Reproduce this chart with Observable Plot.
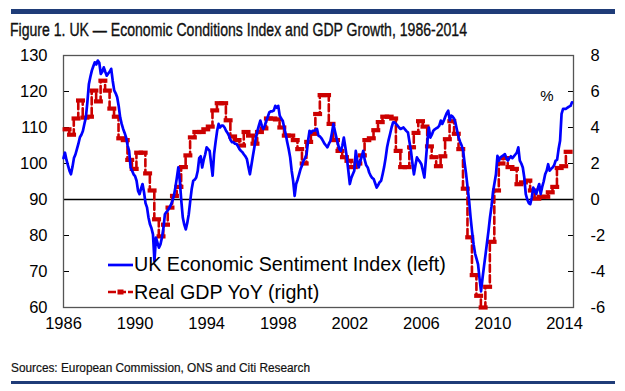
<!DOCTYPE html>
<html>
<head>
<meta charset="utf-8">
<script src="https://cdn.jsdelivr.net/npm/d3@7"></script>
<script src="https://cdn.jsdelivr.net/npm/@observablehq/plot@0.6"></script>
<style>
  html, body { margin: 0; padding: 0; background: #ffffff; }
  #wrap { position: relative; width: 625px; height: 391px; overflow: hidden; background: #fff; }
  #chart { position: absolute; left: 0; top: 45px; }
  #overlay { position: absolute; left: 0; top: 0; pointer-events: none; }
</style>
</head>
<body>
<div id="wrap">
  <div id="chart"></div>
  <svg id="overlay" width="625" height="391"></svg>
</div>
<script>
// ---------------- DATA ----------------
const titleText = "Figure 1. UK \u2014 Economic Conditions Index and GDP Growth, 1986-2014";
const sourceText = "Sources: European Commission, ONS and Citi Research";
const seriesNames = ["UK Economic Sentiment Index (left)", "Real GDP YoY (right)"];
const startYear = 1986;

// UK Economic Sentiment Index, monthly from Jan 1986 (left axis)
const esiMonthly = [
  101.5, 103, 101, 99.5, 98, 97, 99, 101.5, 102.5, 104, 105.5, 107.3,
  108, 109, 111, 112.8, 117, 122, 124, 125.8, 127, 128.1, 127.5, 128.6,
  128, 124.9, 125.5, 126.7, 125.5, 124.4, 125, 125.5, 126.3, 123, 120.3, 119.5,
  118.4, 116, 112.8, 111, 109.6, 108.5, 107.2, 105, 103.5, 98.9, 98, 97,
  96.5, 95.2, 92.4, 91.5, 93, 94.3, 92, 89, 87.8, 85, 83.1, 82,
  80.3, 72.9, 79.4, 78, 76.6, 77.5, 79.4, 82, 85.9, 86.5, 87, 87.7,
  88.5, 89.6, 91, 93.3, 96, 98.9, 95.2, 89.6, 85, 83, 81.7, 83.5,
  85.9, 89.6, 93, 95.2, 95.5, 96.1, 97.9, 101.5, 102, 98.9, 101, 102.5,
  104.5, 104, 103.5, 100, 96.6, 102.7, 106, 109, 111, 110, 110.5, 110.5,
  110, 109.1, 108.5, 107.7, 106.5, 105.9, 105.9, 105.5, 105.4, 104.8, 104, 103.5,
  103.1, 102.5, 102, 101.2, 99, 97, 99.5, 102.1, 104.5, 107.2, 109, 110.5,
  111.9, 110.5, 109.6, 110.5, 111.9, 113, 114.2, 114.5, 114.5, 114.7, 116, 115.5,
  116, 113.3, 112.5, 111.9, 110, 108.2, 106, 104, 101.7, 98, 95.2, 91,
  94.3, 95.5, 97, 98.5, 99.5, 100.8, 101.5, 102.6, 106.3, 109.1, 108.5, 109.1,
  109.1, 109.3, 109.6, 107.7, 107.5, 107, 106.3, 105.5, 105, 104.5, 105.5, 106.3,
  108.5, 111, 109, 107.2, 105.5, 104, 103.5, 105, 107.2, 104.5, 101.7, 98,
  94.3, 96, 97, 98, 103.5, 101, 98.9, 100.5, 102, 103.5, 101, 99.5,
  98.9, 97.5, 96.6, 96, 95.7, 94.5, 93.3, 94, 94.8, 95.2, 97, 99,
  101.5, 104.5, 106.5, 108.2, 110, 111.4, 111.4, 111, 110.5, 110, 109.6, 109.8,
  110, 109.5, 109, 108.6, 106, 103.5, 100, 97, 99.5, 101.7, 101, 100.5,
  99.8, 98, 96.1, 101, 106, 110, 107.2, 108, 109.1, 109.5, 109.8, 110,
  110.5, 111.9, 111, 111.9, 113, 114, 114.7, 112, 113.3, 113, 112.4, 111,
  109, 107.2, 106, 105, 103.5, 100, 97, 93.3, 89.6, 85, 81, 77.6,
  75, 73.5, 72, 68, 64.5, 68.2, 71.5, 74.7, 78, 81.3, 85, 88,
  92, 94.5, 97, 102.1, 100.8, 101.7, 102, 102.3, 102.6, 101.5, 100.8, 101.5,
  102, 101.5, 102, 102.5, 103, 104.5, 100.8, 100, 98.9, 96.1, 91.5, 90,
  89, 88.7, 90.5, 93.3, 92.5, 91.5, 93, 94.3, 91.5, 93.5, 95, 97,
  98, 99.8, 98, 98.5, 98.9, 99.5, 100.8, 101, 104, 106.3, 113.8, 115.2,
  115.2, 115.2, 115.5, 115.8, 116, 117
];

// Real GDP YoY %, quarterly from 1986 Q1 (right axis)
const gdpQuarterly = [
  3.9, 3.6, 4.5, 5.5,
  4.55, 4.6, 6.05, 5.45,
  6.6, 6.05, 5.05, 4.6,
  3.4, 3.3, 2.2, 1.7,
  2.6, 2.6, 1.45, 0.5,
  -1.1, -2.05, -1.4, -0.45,
  0.2, 0.7, 1.8, 2.45,
  3.45, 3.75, 3.75, 3.9,
  4.05, 4.95, 5.35, 5.35,
  4.4, 3.5, 3.3, 3.0,
  3.75, 3.55, 3.1, 3.75,
  3.95, 4.5, 4.5, 4.45,
  4.0, 3.55, 3.55, 3.3,
  2.8, 2.0, 3.2, 3.65,
  4.75, 5.8, 5.8, 4.2,
  3.3, 2.7, 2.35, 2.15,
  1.8, 2.0, 2.45, 3.3,
  3.4, 3.85, 4.3, 4.6,
  4.6, 4.5, 2.7, 1.8,
  1.8, 2.9, 3.7, 4.35,
  4.05, 2.95, 2.35, 1.85,
  2.4, 3.35, 4.35, 3.65,
  2.8, 0.6, -2.1, -4.2,
  -5.35, -6.0, -4.85, -2.35,
  0.5, 2.0, 2.3, 1.8,
  1.7, 0.85, 0.95, 1.05,
  0.5, 0.05, 0.15, 0.15,
  0.4, 0.7, 1.75, 1.85,
  2.65
];

const xTicks = [1986, 1990, 1994, 1998, 2002, 2006, 2010, 2014];
const leftTicks = [60, 70, 80, 90, 100, 110, 120, 130];
const rightTicks = [-6, -4, -2, 0, 2, 4, 6, 8];

// ---------------- CHART ----------------
const blue = "#0000ff";
const red = "#cc0000";

// right-axis (GDP %) expressed on the left-axis scale: -6..8  <->  60..130
const toLeft = g => 90 + 5 * g;

const esi = esiMonthly.map((v, i) => ({t: startYear + i / 12, v}));
const gdp = gdpQuarterly.map((g, i) => ({t: startYear + (3 * i + 2.4) / 12, g}));

const barSymbol = { draw(ctx) { ctx.rect(-4.5, -2.1, 9, 4.2); } };

const plot = Plot.plot({
  width: 625,
  height: 300,
  marginLeft: 63,
  marginRight: 52,
  marginTop: 10,
  marginBottom: 38,
  style: { fontFamily: "'Liberation Sans', Arial, sans-serif", fontSize: "16.5px", color: "#000", background: "#fff", overflow: "visible" },
  x: { domain: [1986, 2014.5], label: null },
  y: { domain: [60, 130], label: null },
  marks: [
    Plot.axisX({ ticks: xTicks, tickSize: 0, tickPadding: 10, tickFormat: d => String(d), fontSize: 16.5 }),
    Plot.axisY({ anchor: "left", ticks: leftTicks, tickSize: 0, tickPadding: 16, tickFormat: d => String(d), fontSize: 16.5 }),
    Plot.axisY({ anchor: "right", ticks: rightTicks.map(toLeft), tickSize: 0, tickPadding: 17, textAnchor: "start",
                 tickFormat: d => String(Math.round((d - 90) / 5)), fontSize: 16.5 }),
    Plot.ruleY(leftTicks.slice(1, -1), { insetRight: 504, stroke: "#000", strokeWidth: 1 }),
    Plot.ruleY(rightTicks.slice(1, -1).map(toLeft), { insetLeft: 505, stroke: "#000", strokeWidth: 1 }),
    Plot.ruleY([toLeft(0)], { stroke: "#000", strokeWidth: 1.3 }),
    Plot.frame({ stroke: "#555", strokeWidth: 1.3 }),
    Plot.line(gdp, { x: "t", y: d => toLeft(d.g), curve: "step", stroke: red, strokeWidth: 2.6, strokeDasharray: "7,3.5" }),
    Plot.dot(gdp, { x: "t", y: d => toLeft(d.g), symbol: barSymbol, fill: red, stroke: "none" }),
    Plot.line(esi, { x: "t", y: "v", stroke: blue, strokeWidth: 2.7, strokeLinejoin: "round" })
  ]
});
document.getElementById("chart").appendChild(plot);

// ---------------- TITLE, LEGEND, SOURCE ----------------
const ov = d3.select("#overlay");
const navy = "#1f3c78";
const narrow = "'Liberation Sans Narrow', 'Arial Narrow', 'Liberation Sans', Arial, sans-serif";
ov.append("rect").attr("x", 11).attr("y", 9).attr("width", 604).attr("height", 5).attr("fill", navy);
ov.append("text").attr("x", 10).attr("y", 36)
  .attr("font-family", narrow)
  .attr("font-size", 18).attr("fill", "#111").attr("stroke", "#111").attr("stroke-width", 0.35)
  .attr("textLength", 457).attr("lengthAdjust", "spacingAndGlyphs")
  .text(titleText);

ov.append("text").attr("x", 11).attr("y", 372)
  .attr("font-family", narrow)
  .attr("font-size", 12.5).attr("fill", "#111").attr("stroke", "#111").attr("stroke-width", 0.2)
  .attr("textLength", 299).attr("lengthAdjust", "spacingAndGlyphs")
  .text(sourceText);
ov.append("rect").attr("x", 11).attr("y", 381).attr("width", 604).attr("height", 3).attr("fill", navy);

const lf = "'Liberation Sans', Arial, sans-serif";
ov.append("line").attr("x1", 108).attr("x2", 133).attr("y1", 265).attr("y2", 265)
  .attr("stroke", blue).attr("stroke-width", 2.7);
ov.append("text").attr("x", 134).attr("y", 271).attr("font-family", lf).attr("font-size", 19.7).attr("fill", "#000")
  .text(seriesNames[0]);
ov.append("line").attr("x1", 108).attr("x2", 133).attr("y1", 292).attr("y2", 292)
  .attr("stroke", red).attr("stroke-width", 2.6).attr("stroke-dasharray", "8,2");
ov.append("rect").attr("x", 117.5).attr("y", 289.5).attr("width", 6).attr("height", 5).attr("fill", red);
ov.append("text").attr("x", 134).attr("y", 298.5).attr("font-family", lf).attr("font-size", 19.7).attr("fill", "#000")
  .text(seriesNames[1]);

ov.append("text").attr("x", 547).attr("y", 101).attr("text-anchor", "middle")
  .attr("font-family", lf).attr("font-size", 15).attr("fill", "#000").text("%");
</script>
</body>
</html>
